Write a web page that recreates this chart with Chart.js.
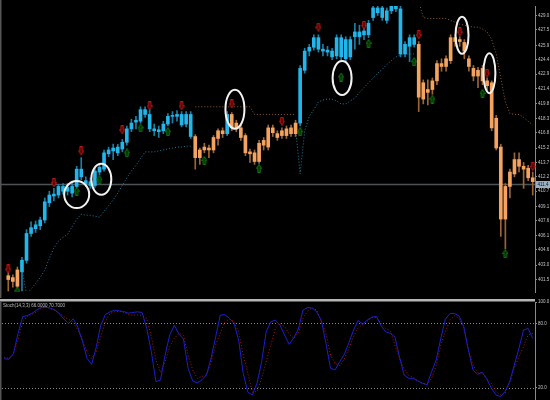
<!DOCTYPE html>
<html>
<head>
  <title>Trend + Stochastic</title>
  <script src="https://cdn.jsdelivr.net/npm/chart.js"></script>
  <style>
    body {
      margin: 0;
      padding: 0;
      background-color: #000;
      overflow: hidden;
    }
    #wrap {
      position: relative;
      width: 550px;
      height: 400px;
      overflow: hidden;
      background-color: #000;
    }
    #priceChart { position: absolute; left: 0; top: 0; }
    #stochChart { position: absolute; left: 0; top: 297px; }
  </style>
</head>
<body>
  <div id="wrap">
    <canvas id="priceChart" width="550" height="298"></canvas>
    <canvas id="stochChart" width="550" height="112"></canvas>
  </div>
  <script>
    // candles
    const open = [
      401.9, 401.7, 402.5, 402.3, 403.5, 406.3, 406.8, 407.1, 407.7, 409.5,
      410.2, 410.3, 410.7, 410.7, 410.5, 411.2, 412.2, 411.5, 411.3, 411.3,
      412.7, 413.0, 414.6, 414.9, 414.7, 415.1, 415.8, 417.2, 417.9, 418.0,
      418.7, 417.2, 417.0, 416.9, 417.0, 417.7, 418.5, 418.5, 417.6, 417.7,
      416.4, 416.4, 415.0, 415.3, 415.2, 416.3, 417.0, 417.0, 416.7, 418.7,
      417.8, 417.3, 416.5, 414.8, 414.7, 415.7, 416.0, 417.3, 417.3, 416.7,
      417.0, 417.2, 417.3, 417.8, 417.8, 423.3, 425.3, 425.7, 425.5, 425.3,
      425.2, 424.7, 424.8, 424.7, 424.5, 424.7, 426.8, 426.8, 427.0, 427.0,
      428.8, 429.3, 428.8, 428.5, 429.5, 429.7, 425.0, 425.0, 425.8, 426.0,
      426.0, 422.0, 421.3, 422.2, 424.0, 424.0, 424.5, 426.7, 426.7, 426.5,
      426.2, 424.5, 423.5, 423.3, 423.5, 422.2, 422.0, 418.3, 415.3, 411.2,
      412.7, 414.0, 414.0, 413.3, 413.1, 412.1
    ];
    const high = [
      402.2, 402.0, 402.8, 403.8, 406.7, 407.5, 407.6, 408.0, 410.0, 410.7,
      411.0, 411.4, 411.5, 411.5, 411.6, 413.3, 414.2, 412.2, 412.1, 413.1,
      413.5, 415.0, 415.3, 415.6, 415.6, 416.1, 417.5, 418.2, 418.5, 419.5,
      419.5, 419.2, 417.7, 417.5, 418.0, 418.8, 419.0, 419.1, 419.0, 419.0,
      419.0, 416.6, 415.2, 415.7, 415.5, 416.5, 417.2, 417.3, 419.0, 418.9,
      418.1, 417.6, 416.7, 415.1, 415.0, 416.0, 416.3, 417.6, 417.6, 417.0,
      417.3, 417.5, 417.6, 418.1, 423.8, 425.6, 426.0, 427.0, 427.0, 426.0,
      425.8, 425.6, 427.0, 427.0, 426.8, 426.8, 428.2, 428.0, 427.8, 428.5,
      430.0, 430.0, 430.0, 429.8, 430.2, 430.2, 430.0, 426.3, 427.0, 427.0,
      426.3, 422.3, 422.3, 422.5, 424.3, 424.5, 424.8, 427.0, 427.0, 426.8,
      426.5, 424.8, 423.8, 423.6, 423.8, 422.5, 422.2, 418.6, 415.6, 411.5,
      413.0, 414.7, 414.7, 413.7, 413.4, 412.7
    ];
    const low = [
      400.3, 400.7, 400.6, 400.3, 403.2, 406.0, 406.4, 406.7, 407.4, 409.1,
      409.7, 410.0, 410.4, 410.3, 410.1, 411.0, 411.9, 411.2, 411.0, 411.1,
      412.4, 412.8, 414.3, 414.0, 414.4, 414.8, 415.5, 416.9, 417.2, 417.8,
      418.4, 416.9, 416.5, 416.3, 416.7, 417.5, 417.8, 418.0, 417.4, 417.4,
      416.2, 413.0, 413.5, 414.7, 414.2, 414.7, 415.5, 416.3, 416.5, 417.0,
      416.9, 416.0, 414.4, 413.7, 413.5, 413.6, 415.0, 415.0, 416.4, 416.0,
      416.2, 416.2, 416.4, 416.4, 417.5, 423.0, 424.8, 425.4, 425.2, 424.8,
      424.8, 424.4, 424.5, 424.4, 424.2, 424.4, 425.5, 426.0, 426.5, 426.7,
      428.5, 429.0, 428.5, 428.2, 429.2, 429.4, 424.7, 424.7, 424.2, 425.7,
      419.0, 419.8, 419.7, 420.8, 421.8, 423.2, 423.2, 424.0, 425.8, 425.8,
      424.5, 423.2, 422.2, 421.5, 421.8, 421.2, 417.0, 415.0, 406.0, 404.7,
      410.0, 412.2, 412.7, 411.0, 411.8, 410.3
    ];
    const close = [
      401.5, 401.3, 400.8, 403.5, 406.3, 406.9, 407.2, 407.7, 409.6, 410.3,
      410.4, 411.2, 411.2, 411.1, 411.2, 413.0, 413.0, 411.8, 411.7, 412.8,
      413.2, 414.7, 415.0, 415.2, 415.3, 415.8, 417.2, 417.8, 418.1, 419.2,
      419.2, 418.7, 417.2, 417.1, 417.7, 418.5, 418.6, 418.7, 418.7, 418.7,
      418.7, 414.2, 414.2, 415.0, 415.0, 415.0, 416.2, 416.7, 418.7, 417.3,
      417.2, 416.3, 414.7, 414.6, 413.8, 413.8, 415.5, 415.3, 416.8, 416.3,
      416.5, 416.5, 416.7, 416.7, 423.5, 425.3, 425.7, 426.7, 426.7, 425.5,
      425.4, 425.3, 426.7, 426.7, 426.5, 426.5, 427.3, 427.3, 427.4, 428.2,
      429.8, 429.8, 429.8, 429.5, 430.0, 430.0, 429.7, 426.0, 426.7, 426.7,
      420.5, 420.3, 421.0, 421.3, 422.2, 423.7, 423.7, 424.3, 426.3, 426.3,
      425.3, 423.7, 422.7, 422.7, 422.2, 421.7, 417.3, 415.2, 407.8, 407.8,
      411.2, 412.5, 413.3, 413.0, 412.1, 411.7
    ];

    // trailing stop lines (up trend / down trend)
    const support = [
      null, null, null, 402.6, 400.0, 400.5, 401.1, 401.7, 402.5, 403.7,
      404.8, 405.5, 405.9, 406.2, 407.0, 407.8, 408.3, 408.2, 408.2, 408.1,
      408.0, 408.6, 409.2, 409.8, 410.5, 411.3, 412.1, 412.8, 413.4, 414.1,
      414.8, 414.8, 414.8, 414.9, 415.0, 415.1, 415.2, 415.3, 415.3, 415.4,
      415.4, null, null, null, null, null, null, null, null, null,
      null, null, null, null, null, null, null, null, null, null,
      null, null, null, 417.2, 412.5, 417.0, 418.5, 419.2, 420.0, 420.2,
      420.3, 420.3, 420.1, 419.8, 419.8, 420.1, 420.4, 421.0, 421.5, 422.0,
      422.5, 423.0, 423.4, 423.9, 424.3, 424.7, 424.9, 425.0, 425.0, 425.0,
      null, null, null, null, null, null, null, null, null, null,
      null, null, null, null, null, null, null, null, null, null,
      null, null, null, null, null, null
    ];
    const resist = [
      null, null, null, null, null, null, null, null, null, null,
      null, null, null, null, null, null, null, null, null, null,
      null, null, null, null, null, null, null, null, null, null,
      null, null, null, null, null, null, null, null, null, null,
      null, 419.5, 419.5, 419.5, 419.5, 419.5, 419.5, 419.5, 419.5, 419.5,
      419.5, 419.5, 419.5, 419.5, 418.7, 418.7, 418.7, 418.7, 418.7, 418.7,
      418.7, 418.7, 418.7, 418.7, null, null, null, null, null, null,
      null, null, null, null, null, null, null, null, null, null,
      null, null, null, null, null, null, null, null, null, null,
      430.5, 428.8, 428.7, 428.7, 428.7, 428.7, 428.7, 428.5, 428.3, 428.1,
      428.0, 427.9, 427.8, 427.8, 427.6, 427.3, 426.5, 425.0, 422.5, 420.0,
      418.8, 418.7, 418.7, 418.4, 418.0, 417.6
    ];

    // signal arrows: candle index + price level
    const sellIdx = [0, 10, 16, 25, 31, 38, 49, 60, 68, 78, 90, 99, 105, 115];
    const sellAt = [402.6, 411.6, 414.9, 417.1, 419.6, 419.6, 419.8, 418.0, 427.8, 428.0, 427.0, 427.3, 423.0, 413.3];
    const buyIdx = [2, 15, 20, 26, 29, 35, 43, 55, 64, 73, 79, 89, 93, 104, 109];
    const buyAt = [400.3, 410.7, 411.9, 414.7, 417.3, 416.9, 413.9, 413.1, 416.9, 422.6, 426.1, 424.2, 420.3, 420.9, 404.2];

    // hand drawn circles: candle index + price
    const circleIdx = [15, 20.4, 49.7, 73.2, 99.5, 105.5];
    const circlePrice = [410.35, 411.95, 419.25, 422.5, 426.95, 423.0];

    const lastPrice = 411.4;
    const priceTicks = [429.0, 427.5, 425.9, 424.4, 422.9, 421.4, 419.8, 418.3, 416.8, 415.2,
                        413.7, 412.2, 410.7, 409.1, 407.6, 406.1, 404.6, 403.0, 401.5];

    // stochastic %K / %D
    const stochK = [
      47.0, 46.5, 51.8, 70.7, 86.2, 87.4, 89.3, 92.4, 94.9, 95.2,
      94.3, 92.7, 89.0, 84.0, 80.0, 84.3, 76.6, 63.5, 47.4, 41.7,
      57.6, 78.4, 88.3, 90.8, 92.4, 91.7, 91.1, 89.6, 90.2, 90.8,
      90.2, 75.3, 53.6, 25.6, 27.2, 50.5, 69.1, 78.4, 70.0, 65.4,
      38.0, 26.2, 24.4, 27.2, 31.8, 47.4, 67.5, 87.7, 88.3, 84.6,
      80.0, 64.5, 33.4, 15.7, 13.2, 24.1, 44.2, 72.2, 81.5, 83.1,
      78.4, 69.1, 60.4, 66.6, 74.7, 92.4, 94.9, 94.3, 90.8, 82.8,
      61.4, 38.0, 36.5, 44.2, 51.1, 62.0, 73.8, 82.8, 79.4, 83.1,
      85.9, 86.5, 77.8, 72.2, 70.7, 67.5, 48.9, 31.8, 28.7, 28.7,
      26.2, 24.1, 22.8, 34.9, 45.8, 66.0, 84.0, 89.3, 89.3, 86.8,
      76.9, 55.2, 36.5, 32.4, 34.3, 28.1, 19.4, 13.2, 11.6, 16.3,
      25.6, 41.1, 56.7, 73.8, 75.3, 66.0
    ];
    const stochD = [
      48.3, 47.4, 52.0, 64.5, 81.5, 86.5, 88.6, 90.8, 94.0, 95.5,
      94.0, 92.1, 89.3, 86.2, 83.7, 81.5, 73.8, 64.5, 53.0, 47.4,
      53.6, 67.5, 81.5, 89.3, 90.8, 91.4, 90.2, 88.3, 87.7, 87.7,
      87.1, 84.6, 67.5, 45.8, 34.3, 44.2, 58.3, 66.0, 70.7, 68.5,
      50.5, 36.5, 28.7, 30.3, 31.8, 44.2, 59.8, 70.7, 81.5, 84.0,
      81.5, 72.2, 50.5, 33.4, 15.7, 16.3, 28.7, 44.2, 59.8, 75.3,
      80.0, 76.9, 70.0, 66.0, 71.6, 84.6, 91.4, 94.6, 92.4, 81.5,
      70.7, 50.5, 42.6, 40.5, 46.7, 56.7, 67.5, 75.9, 79.0, 82.2,
      85.6, 85.3, 80.0, 75.3, 73.2, 59.8, 47.4, 37.4, 31.5, 29.3,
      26.2, 24.1, 22.8, 28.7, 40.5, 59.8, 72.2, 83.1, 87.1, 84.6,
      75.3, 55.2, 41.1, 34.3, 33.4, 28.7, 24.1, 16.3, 13.2, 14.7,
      25.0, 38.0, 48.9, 58.3, 69.1, 70.7
    ];
    const stochTicks = [100, 80, 20];
    const stochLevels = [80, 20];

    // styles
    const BLUE = '#22b6ec', ORANGE = '#f4a460';
    const BLUE_WICK = '#1b7ea6', ORANGE_WICK = '#9c6534';
    const circleSize = [[12.5, 13.5], [10, 15.5], [9.5, 19.5], [9.5, 17], [6.5, 18.5], [6, 20]];
    const tinyFont = { size: 4.5, family: 'Liberation Sans' };

    const labels = open.map((_, i) => i);
    const isUp = close.map((c, i) => c >= open[i]);

    function makeArrow(down, fill, stroke) {
      const c = document.createElement('canvas');
      c.width = 6;
      c.height = 9;
      const g = c.getContext('2d');
      const pts = [[1.8, 0.5], [4.2, 0.5], [4.2, 4.5], [5.5, 4.5], [3, 8.5], [0.5, 4.5], [1.8, 4.5]];
      g.beginPath();
      pts.forEach(([px, py], k) => {
        const yy = down ? py : 9 - py;
        if (k === 0) g.moveTo(px, yy); else g.lineTo(px, yy);
      });
      g.closePath();
      g.fillStyle = fill;
      g.fill();
      g.strokeStyle = stroke;
      g.lineWidth = 1;
      g.stroke();
      return c;
    }
    const sellArrow = makeArrow(true, '#4a0000', '#c41a1a');
    const buyArrow = makeArrow(false, '#022e02', '#127a12');

    const sellData = labels.map(() => null);
    sellIdx.forEach((i, k) => { sellData[i] = sellAt[k]; });
    const buyData = labels.map(() => null);
    buyIdx.forEach((i, k) => { buyData[i] = buyAt[k]; });

    function fixedAxis(tickValues) {
      return function (s) {
        s.ticks = tickValues.map(v => ({ value: v }));
      };
    }
    function narrowAxis(s) {
      s.width = 15;
      s.paddingTop = 0;
      s.paddingBottom = 0;
    }

    const priceExtras = {
      id: 'priceExtras',
      beforeDatasetsDraw(chart) {
        const { ctx, chartArea: a, scales: { y } } = chart;
        const py = y.getPixelForValue(lastPrice);
        ctx.save();
        ctx.strokeStyle = '#4b5357';
        ctx.lineWidth = 1.5;
        ctx.beginPath();
        ctx.moveTo(0, py);
        ctx.lineTo(a.right, py);
        ctx.stroke();
        ctx.restore();
      },
      afterDatasetsDraw(chart) {
        const { ctx, chartArea: a, scales: { x, y } } = chart;
        ctx.save();
        ctx.strokeStyle = '#f2f2f2';
        ctx.lineWidth = 2;
        circleIdx.forEach((idx, k) => {
          ctx.beginPath();
          ctx.ellipse(x.getPixelForValue(idx), y.getPixelForValue(circlePrice[k]),
            circleSize[k][0], circleSize[k][1], 0, 0, Math.PI * 2);
          ctx.stroke();
        });
        // left frame
        ctx.strokeStyle = '#555';
        ctx.lineWidth = 1.5;
        ctx.beginPath();
        ctx.moveTo(0.75, 0);
        ctx.lineTo(0.75, chart.height);
        ctx.stroke();
        // last price tag
        const py = y.getPixelForValue(lastPrice);
        ctx.fillStyle = '#9db1c2';
        ctx.fillRect(a.right + 1, py - 3.5, 14, 7);
        ctx.fillStyle = '#111';
        ctx.font = '4.5px "Liberation Sans"';
        ctx.textBaseline = 'middle';
        ctx.fillText(lastPrice.toFixed(1), a.right + 2.5, py);
        ctx.restore();
      }
    };

    new Chart(document.getElementById('priceChart'), {
      type: 'bar',
      data: {
        labels: labels,
        datasets: [
          {
            type: 'line', data: sellData, showLine: false, pointStyle: sellArrow,
            pointRadius: 5, order: 0
          },
          {
            type: 'line', data: buyData, showLine: false, pointStyle: buyArrow,
            pointRadius: 5, order: 0
          },
          {
            data: open.map((o, i) => [o, close[i]]),
            backgroundColor: isUp.map(u => u ? BLUE : ORANGE),
            barThickness: 3, grouped: false, order: 1
          },
          {
            data: low.map((l, i) => [l, high[i]]),
            backgroundColor: isUp.map(u => u ? BLUE_WICK : ORANGE_WICK),
            barThickness: 1, grouped: false, order: 2
          },
          {
            type: 'line', data: support, borderColor: '#1d7ea3', borderWidth: 1,
            borderDash: [1, 2], pointRadius: 0, order: 3
          },
          {
            type: 'line', data: resist, borderColor: '#8c5a30', borderWidth: 1,
            borderDash: [1, 2], pointRadius: 0, order: 3
          }
        ]
      },
      options: {
        responsive: false,
        animation: false,
        layout: { padding: { left: 2, top: 0, right: 0, bottom: 0 } },
        plugins: { legend: { display: false }, tooltip: { enabled: false } },
        scales: {
          x: { type: 'category', display: false, offset: true },
          y: {
            position: 'right',
            min: 400.2,
            max: 430,
            afterBuildTicks: fixedAxis(priceTicks),
            afterFit: narrowAxis,
            ticks: {
              color: '#c4c4c4', font: tinyFont, padding: 1, autoSkip: false,
              callback: v => v.toFixed(1)
            },
            grid: { drawOnChartArea: false, tickLength: 2, tickColor: '#8a8a8a' },
            border: { color: '#8a8a8a', width: 1 }
          }
        }
      },
      plugins: [priceExtras]
    });

    const stochExtras = {
      id: 'stochExtras',
      beforeDatasetsDraw(chart) {
        const { ctx, chartArea: a, scales: { y } } = chart;
        ctx.save();
        ctx.strokeStyle = '#8a8a8a';
        ctx.lineWidth = 1;
        ctx.setLineDash([1, 2]);
        stochLevels.forEach(v => {
          const py = Math.round(y.getPixelForValue(v)) + 0.5;
          ctx.beginPath();
          ctx.moveTo(a.left, py);
          ctx.lineTo(a.right, py);
          ctx.stroke();
        });
        ctx.restore();
      },
      afterDatasetsDraw(chart) {
        const { ctx, chartArea: a } = chart;
        ctx.save();
        // separator between panes
        ctx.strokeStyle = '#b4b4b4';
        ctx.lineWidth = 2.4;
        ctx.beginPath();
        ctx.moveTo(0, 3.3);
        ctx.lineTo(a.right, 3.3);
        ctx.stroke();
        ctx.strokeStyle = '#555';
        ctx.lineWidth = 1.5;
        ctx.beginPath();
        ctx.moveTo(0.75, 4.5);
        ctx.lineTo(0.75, chart.height);
        ctx.stroke();
        ctx.fillStyle = '#bdbdbd';
        ctx.font = '4.5px "Liberation Sans"';
        ctx.textBaseline = 'middle';
        const k = stochK[stochK.length - 1], d = stochD[stochD.length - 1];
        ctx.fillText('Stoch(14,3,3) ' + k.toFixed(4) + ' ' + d.toFixed(4), 3, 8.5);
        ctx.restore();
      }
    };

    new Chart(document.getElementById('stochChart'), {
      type: 'line',
      data: {
        labels: labels,
        datasets: [
          {
            data: stochK, borderColor: '#1e1ecc', borderWidth: 1,
            pointRadius: 0, tension: 0
          },
          {
            data: stochD, borderColor: '#a81616', borderWidth: 1, borderDash: [1, 2],
            pointRadius: 0, tension: 0
          }
        ]
      },
      options: {
        responsive: false,
        animation: false,
        layout: { padding: { left: 2, top: 5, right: 0, bottom: 0 } },
        plugins: { legend: { display: false }, tooltip: { enabled: false } },
        scales: {
          x: { type: 'category', display: false, offset: true },
          y: {
            position: 'right',
            min: 0,
            max: 100,
            afterBuildTicks: fixedAxis(stochTicks),
            afterFit: narrowAxis,
            ticks: {
              color: '#c4c4c4', font: tinyFont, padding: 1, autoSkip: false,
              callback: v => v.toFixed(1)
            },
            grid: { drawOnChartArea: false, tickLength: 2, tickColor: '#8a8a8a' },
            border: { color: '#8a8a8a', width: 1 }
          }
        }
      },
      plugins: [stochExtras]
    });
  </script>
</body>
</html>
